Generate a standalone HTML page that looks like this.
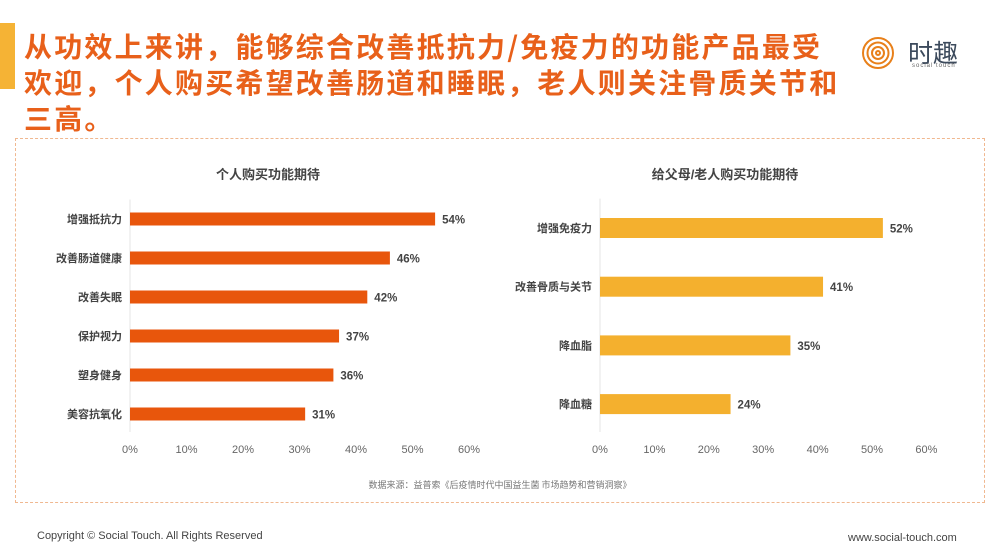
<!DOCTYPE html>
<html><head><meta charset="utf-8"><style>
body{margin:0;width:1000px;height:557px;background:#fff;overflow:hidden;position:relative;font-family:"Liberation Sans","Noto Sans CJK SC",sans-serif}
.t{position:absolute;white-space:nowrap}
</style></head><body>
<div class="t" style="left:0;top:23px;width:15px;height:66px;background:#f5b335"></div>
<div class="t" style="left:24px;top:28px;font-size:28px;line-height:36px;font-weight:bold;color:#e8601a;font-family:'Noto Sans CJK SC',sans-serif;letter-spacing:2.2px">从功效上来讲，能够综合改善抵抗力/免疫力的功能产品最受<br>欢迎，个人购买希望改善肠道和睡眠，老人则关注骨质关节和<br>三高。</div>
<svg class="t" style="left:860px;top:35px" width="40" height="38"><g fill="none" stroke="#e8801a" stroke-width="2"><circle cx="18" cy="18" r="15"/><circle cx="18" cy="18" r="10.5"/><circle cx="18" cy="18" r="6"/><circle cx="18" cy="18" r="2"/></g></svg>
<div class="t" style="left:908px;top:34px;font-size:25px;color:#3c4a5c;font-family:'Noto Sans CJK SC',sans-serif">时趣</div>
<div class="t" style="left:912px;top:63px;font-size:6px;color:#666;letter-spacing:1px">social touch</div>
<div class="t" style="left:15px;top:138px;width:968px;height:363px;border:1.5px dashed #f0b890"></div>
<svg id="c" class="t" style="left:0;top:0" width="1000" height="557"></svg>
<div class="t" style="left:0;width:1000px;text-align:center;top:478px;font-size:9px;color:#777;font-family:'Noto Sans CJK SC',sans-serif">数据来源：益普索《后疫情时代中国益生菌 市场趋势和营销洞察》</div>
<div class="t" style="left:37px;top:530px;font-size:11px;color:#444">Copyright © Social Touch. All Rights Reserved</div>
<div class="t" style="left:848px;top:532px;font-size:11px;color:#444">www.social-touch.com</div>
<script>
const leftCats=["增强抵抗力","改善肠道健康","改善失眠","保护视力","塑身健身","美容抗氧化"];
const leftVals=[54,46,42,37,36,31];
const rightCats=["增强免疫力","改善骨质与关节","降血脂","降血糖"];
const rightVals=[52,41,35,24];
const ticks=[0,10,20,30,40,50,60];
const NS="http://www.w3.org/2000/svg",svg=document.getElementById('c');
function mk(t,a,txt){const e=document.createElementNS(NS,t);for(const k in a)e.setAttribute(k,a[k]);if(txt!==undefined)e.textContent=txt;svg.appendChild(e);return e;}
function chart(cfg){
 const x=v=>cfg.x0+v*cfg.sc;
 const y=i=>cfg.y0+i*cfg.step;
 let e=mk('line',{x1:cfg.x0,x2:cfg.x0,y1:cfg.y0-cfg.step/2,y2:432,stroke:'#e6e6e6'});
 
 
 e=mk('text',{x:cfg.tx,y:179,'text-anchor':'middle','font-size':13,'font-weight':'bold',fill:'#444'},cfg.title);
 
 
 ticks.forEach(t=>{const k=mk('text',{x:x(t),y:453,'text-anchor':'middle','font-size':11,fill:'#666'},t+'%');
  
  });
 cfg.cats.forEach((c,i)=>{
  const l=mk('text',{x:cfg.x0-8,y:y(i)+4,'text-anchor':'end','font-size':11,'font-weight':'bold',fill:'#444'},c);
  
  
  const b=mk('rect',{x:cfg.x0,y:y(i)-cfg.h/2,width:x(cfg.vals[i])-cfg.x0,height:cfg.h,fill:cfg.col});
  
  
  const v=mk('text',{x:x(cfg.vals[i])+7,y:y(i)+4.5,'font-size':11.5,'font-weight':'bold',fill:'#444'},cfg.vals[i]+'%');
  
  
 });
}
chart({id:'personal',cats:leftCats,vals:leftVals,x0:130,sc:5.65,y0:219,step:39,h:13,col:'#e8560c',title:'个人购买功能期待',tx:268});
chart({id:'parents',cats:rightCats,vals:rightVals,x0:600,sc:5.44,y0:228,step:58.7,h:20,col:'#f4b02e',title:'给父母/老人购买功能期待',tx:725});
</script>
</body></html>
